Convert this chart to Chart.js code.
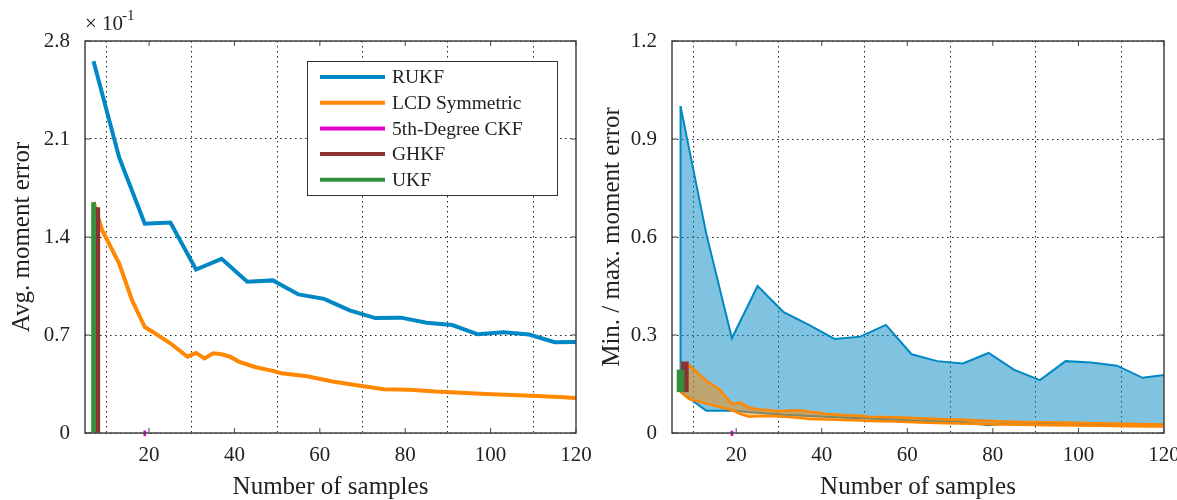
<!DOCTYPE html>
<html>
<head>
<meta charset="utf-8">
<script src="https://cdn.jsdelivr.net/npm/chart.js@4.4.0/dist/chart.umd.min.js"></script>
<style>
  body { margin: 0; background: #fff; overflow: hidden; }
  #wrap { position: relative; width: 1177px; height: 500px; overflow: hidden; }
  .panel { position: absolute; top: 0; }
</style>
</head>
<body>
<div id="wrap">
  <div class="panel" style="left:0"><canvas id="left" width="604" height="500"></canvas></div>
  <div class="panel" style="left:590px"><canvas id="right" width="587" height="500"></canvas></div>
</div>
<script>
// RUKF: sample counts, average error (x 10^-1), min / max error
const rukfN = [7, 13, 19, 25, 31, 37, 43, 49, 55, 61, 67, 73, 79, 85, 91, 97, 103, 109, 115, 121];
const rukfAvg = [2.656, 1.968, 1.495, 1.503, 1.168, 1.244, 1.080, 1.090, 0.990, 0.958, 0.876, 0.821, 0.824, 0.788, 0.771, 0.705, 0.719, 0.703, 0.648, 0.650];
const rukfMax = [1.0, 0.611, 0.290, 0.450, 0.371, 0.331, 0.288, 0.295, 0.331, 0.241, 0.220, 0.213, 0.245, 0.193, 0.162, 0.220, 0.216, 0.206, 0.169, 0.179];
const rukfMin = [0.126, 0.068, 0.068, 0.062, 0.056, 0.052, 0.048, 0.045, 0.042, 0.038, 0.036, 0.034, 0.024, 0.032, 0.030, 0.028, 0.024, 0.027, 0.026, 0.025];

// LCD Symmetric
const lcdN = [7, 9, 13, 16, 19, 21, 23, 25, 29, 31, 33, 35, 37, 39, 41, 45, 49, 51, 57, 63, 69, 75, 81, 87, 93, 99, 105, 111, 117, 121];
const lcdAvg = [1.65, 1.45, 1.21, 0.95, 0.757, 0.72, 0.68, 0.641, 0.545, 0.572, 0.533, 0.570, 0.562, 0.545, 0.510, 0.470, 0.444, 0.427, 0.405, 0.368, 0.340, 0.313, 0.309, 0.296, 0.288, 0.278, 0.272, 0.265, 0.256, 0.248];
const lcdMax = [0.210, 0.208, 0.160, 0.135, 0.089, 0.093, 0.078, 0.073, 0.068, 0.067, 0.069, 0.070, 0.065, 0.063, 0.058, 0.055, 0.053, 0.050, 0.048, 0.045, 0.042, 0.040, 0.036, 0.034, 0.033, 0.031, 0.030, 0.028, 0.027, 0.026];
const lcdMin = [0.126, 0.104, 0.090, 0.080, 0.070, 0.058, 0.050, 0.051, 0.052, 0.050, 0.048, 0.046, 0.043, 0.042, 0.041, 0.040, 0.038, 0.037, 0.035, 0.032, 0.030, 0.028, 0.026, 0.025, 0.024, 0.023, 0.022, 0.021, 0.020, 0.020];

// fixed sample-count filters
const ukfN = 7, ghkfN = 8, ckfN = 19;
const ukfAvg = 1.645, ghkfAvg = 1.61;
const ckfAvgBar = [-0.02, 0.015];
const ukfRange = [0.126, 0.193];
const ghkfRange = [0.126, 0.218];
const ckfRange = [-0.008, 0.006];

const xTicks = [20, 40, 60, 80, 100, 120];
const leftYTicks = [0, 0.7, 1.4, 2.1, 2.8];
const rightYTicks = [0, 0.3, 0.6, 0.9, 1.2];

const legendNames = ['RUKF', 'LCD Symmetric', '5th-Degree CKF', 'GHKF', 'UKF'];
const BLUE = '#0088c4', ORANGE = '#ff8800', MAGENTA = '#e000c8', BROWN = '#8b3333', GREEN = '#33903a';
const legendColors = [BLUE, ORANGE, MAGENTA, BROWN, GREEN];

const FONT = '"Liberation Serif", "Times New Roman", serif';
const TXT = '#222';

const pts = (xs, ys) => xs.map((x, i) => ({ x, y: ys[i] }));

// frame + inward ticks, legend and exponent label
const framePlugin = {
  id: 'frame',
  afterDraw(chart, args, opts) {
    const { ctx, chartArea: a, scales } = chart;
    ctx.save();
    ctx.strokeStyle = '#444';
    ctx.lineWidth = 1.5;
    ctx.strokeRect(a.left, a.top, a.right - a.left, a.bottom - a.top);
    ctx.lineWidth = 1;
    scales.x.ticks.forEach(t => {
      const px = scales.x.getPixelForValue(t.value);
      ctx.beginPath();
      ctx.moveTo(px, a.bottom); ctx.lineTo(px, a.bottom - 5);
      ctx.moveTo(px, a.top); ctx.lineTo(px, a.top + 5);
      ctx.stroke();
    });
    scales.y.ticks.forEach(t => {
      const py = scales.y.getPixelForValue(t.value);
      ctx.beginPath();
      ctx.moveTo(a.left, py); ctx.lineTo(a.left + 5, py);
      ctx.moveTo(a.right, py); ctx.lineTo(a.right - 5, py);
      ctx.stroke();
    });

    if (opts.legend) {
      const w = 250, h = 134;
      const x = a.right - 19 - w, y = a.top + 20;
      ctx.fillStyle = '#fff';
      ctx.fillRect(x, y, w, h);
      ctx.strokeStyle = '#333';
      ctx.strokeRect(x + 0.5, y + 0.5, w, h);
      ctx.font = '19.5px ' + FONT;
      ctx.textBaseline = 'middle';
      legendNames.forEach((name, i) => {
        const yy = y + 16 + i * 25.7;
        ctx.strokeStyle = legendColors[i];
        ctx.lineWidth = 4;
        ctx.beginPath(); ctx.moveTo(x + 13, yy); ctx.lineTo(x + 78, yy); ctx.stroke();
        ctx.fillStyle = TXT;
        ctx.fillText(name, x + 85, yy + 1);
      });
    }
    if (opts.exponent) {
      ctx.fillStyle = TXT;
      ctx.textBaseline = 'alphabetic';
      ctx.font = '21px ' + FONT;
      ctx.fillText('\u00d7 10', a.left, 30);
      ctx.font = '15px ' + FONT;
      ctx.fillText('-1', a.left + 37, 20);
    }
    ctx.restore();
  }
};

function axes(yTicks, yMax, yTitle, yWidth) {
  const tickFont = { family: FONT, size: 21 };
  const titleFont = { family: FONT, size: 25 };
  return {
    x: {
      type: 'linear', min: 5, max: 120, offset: false,
      afterBuildTicks: s => { s.ticks = xTicks.map(v => ({ value: v })); },
      afterFit: s => { s.height = 67; s.paddingLeft = 0; s.paddingRight = 0; },
      grid: { color: '#222', lineWidth: 1, drawTicks: false },
      border: { display: false, dash: [1.5, 3.5] },
      ticks: { color: TXT, font: tickFont, padding: 10, maxRotation: 0 },
      title: { display: true, text: 'Number of samples', color: TXT, font: titleFont, padding: { top: 0, bottom: -2 } }
    },
    y: {
      type: 'linear', min: 0, max: yMax,
      afterBuildTicks: s => { s.ticks = yTicks.map(v => ({ value: v })); },
      afterFit: s => { s.width = yWidth; s.paddingTop = 0; s.paddingBottom = 0; },
      grid: { color: '#222', lineWidth: 1, drawTicks: false },
      border: { display: false, dash: [1.5, 3.5] },
      ticks: { color: TXT, font: tickFont, padding: 15, callback: v => v === 0 ? '0' : v.toFixed(1) },
      title: { display: true, text: yTitle, color: TXT, font: titleFont, padding: { top: 7, bottom: 0 } }
    }
  };
}

const common = {
  responsive: false,
  animation: false,
  plugins: { legend: { display: false }, tooltip: { enabled: false } },
  elements: { point: { radius: 0 }, line: { tension: 0 } }
};

const bar = (x, y, color, width, extra) =>
  Object.assign({ type: 'bar', grouped: false, data: [{ x, y }], backgroundColor: color, barThickness: width }, extra || {});

new Chart(document.getElementById('left'), {
  type: 'line',
  data: {
    datasets: [
      bar(ukfN, [0, ukfAvg], GREEN, 4),
      bar(ghkfN, [0, ghkfAvg], BROWN, 4),
      bar(ckfN, ckfAvgBar, MAGENTA, 2, { clip: false }),
      { data: pts(lcdN, lcdAvg), borderColor: ORANGE, borderWidth: 4, fill: false },
      { data: pts(rukfN, rukfAvg), borderColor: BLUE, borderWidth: 4, fill: false }
    ]
  },
  options: {
    ...common,
    layout: { padding: { top: 41, right: 28, bottom: 0, left: 0 } },
    scales: axes(leftYTicks, 2.8, 'Avg. moment error', 85),
    plugins: { ...common.plugins, frame: { legend: true, exponent: true } }
  },
  plugins: [framePlugin]
});

new Chart(document.getElementById('right'), {
  type: 'line',
  data: {
    datasets: [
      bar(ukfN, ukfRange, GREEN, 7),
      bar(ghkfN, ghkfRange, BROWN, 7),
      bar(ckfN, ckfRange, MAGENTA, 2, { clip: false }),
      { data: pts(lcdN, lcdMax), borderColor: ORANGE, borderWidth: 2.5, fill: '+1', backgroundColor: 'rgba(255,136,0,0.5)' },
      { data: pts(lcdN, lcdMin), borderColor: ORANGE, borderWidth: 2.5, fill: false },
      { data: [{ x: rukfN[0], y: rukfMin[0] }, { x: rukfN[0], y: rukfMax[0] }], borderColor: BLUE, borderWidth: 2, fill: false },
      { data: pts(rukfN, rukfMax), borderColor: BLUE, borderWidth: 2, fill: '+1', backgroundColor: 'rgba(0,136,196,0.5)' },
      { data: pts(rukfN, rukfMin), borderColor: BLUE, borderWidth: 2, fill: false }
    ]
  },
  options: {
    ...common,
    layout: { padding: { top: 41, right: 13, bottom: 0, left: 0 } },
    scales: axes(rightYTicks, 1.2, 'Min. / max. moment error', 82),
    plugins: { ...common.plugins, frame: { legend: false, exponent: false } }
  },
  plugins: [framePlugin]
});
</script>
</body>
</html>
